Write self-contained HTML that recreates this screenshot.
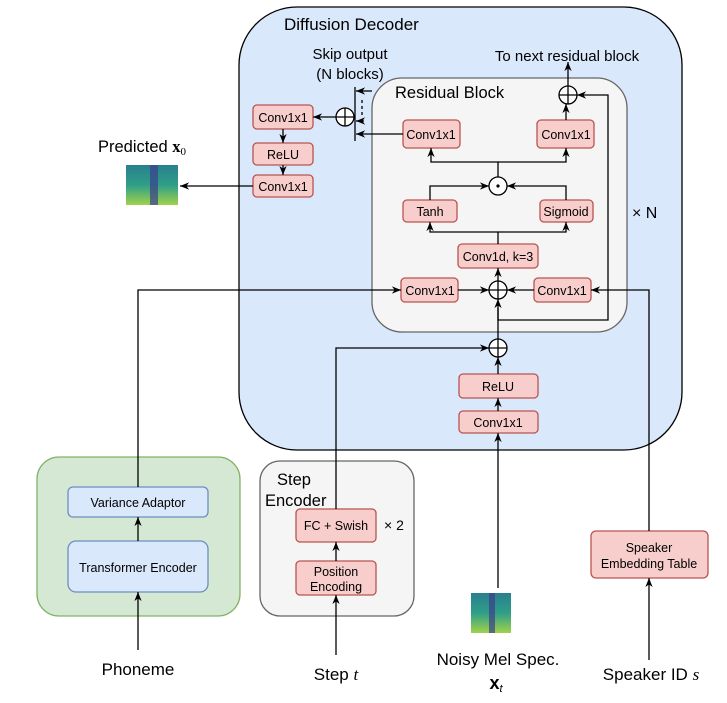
<!DOCTYPE html>
<html><head><meta charset="utf-8"><style>
body{margin:0;background:#fff}
svg text{font-family:"Liberation Sans",sans-serif;fill:#000}
.r{fill:#f8cecc;stroke:#b85450;stroke-width:1.3}
.b{fill:#dae8fc;stroke:#6c8ebf;stroke-width:1.3}
.l{fill:none;stroke:#000;stroke-width:1.3}
.c{fill:#fff;stroke:#000;stroke-width:1.3}
.s{font-size:12.5px}
</style></head><body>
<svg width="727" height="698" viewBox="0 0 727 698" xmlns="http://www.w3.org/2000/svg">
<defs>
<marker id="a" viewBox="0 0 10 10" refX="10" refY="5" markerWidth="7" markerHeight="7" orient="auto"><path d="M0,1 L10,5 L0,9 L3,5 Z" fill="#000"/></marker>
<linearGradient id="sp" x1="0" y1="0" x2="0" y2="1"><stop offset="0" stop-color="#2a7f8e"/><stop offset="0.5" stop-color="#2f9e88"/><stop offset="1" stop-color="#9fd34a"/></linearGradient>
</defs>
<rect x="239" y="7" width="443" height="443" rx="58" fill="#dae8fc" stroke="#000" stroke-width="1.3"/>
<text x="284" y="30" font-size="17">Diffusion Decoder</text>
<rect x="372" y="78" width="255" height="254" rx="30" fill="#f5f5f5" stroke="#666" stroke-width="1.3"/>
<text x="395" y="98" font-size="16.5">Residual Block</text>
<text x="350" y="59" font-size="15" text-anchor="middle">Skip output</text>
<text x="350" y="79" font-size="15" text-anchor="middle">(N blocks)</text>
<text x="567" y="61" font-size="15" text-anchor="middle">To next residual block</text>
<text x="632" y="218" font-size="16">× N</text>
<rect class="r" x="253" y="105" width="60" height="24" rx="4"/><text class="s" x="283" y="122" text-anchor="middle">Conv1x1</text>
<rect class="r" x="253" y="143" width="60" height="22" rx="4"/><text class="s" x="283" y="159" text-anchor="middle">ReLU</text>
<rect class="r" x="253" y="175" width="60" height="22" rx="4"/><text class="s" x="283" y="191" text-anchor="middle">Conv1x1</text>
<rect class="r" x="403" y="120" width="57" height="28" rx="4"/><text class="s" x="431" y="139" text-anchor="middle">Conv1x1</text>
<rect class="r" x="537" y="120" width="57" height="28" rx="4"/><text class="s" x="566" y="139" text-anchor="middle">Conv1x1</text>
<rect class="r" x="403" y="200" width="54" height="22" rx="4"/><text class="s" x="430" y="216" text-anchor="middle">Tanh</text>
<rect class="r" x="540" y="200" width="53" height="22" rx="4"/><text class="s" x="566" y="216" text-anchor="middle">Sigmoid</text>
<rect class="r" x="458" y="244" width="80" height="24" rx="4"/><text class="s" x="498" y="261" text-anchor="middle">Conv1d, k=3</text>
<rect class="r" x="401" y="278" width="57" height="24" rx="4"/><text class="s" x="430" y="295" text-anchor="middle">Conv1x1</text>
<rect class="r" x="534" y="278" width="57" height="24" rx="4"/><text class="s" x="562" y="295" text-anchor="middle">Conv1x1</text>
<rect class="r" x="459" y="374" width="79" height="24" rx="4"/><text class="s" x="498" y="391" text-anchor="middle">ReLU</text>
<rect class="r" x="459" y="411" width="79" height="22" rx="4"/><text class="s" x="498" y="427" text-anchor="middle">Conv1x1</text>
<rect x="37" y="457" width="203" height="159" rx="22" fill="#d5e8d4" stroke="#82b366" stroke-width="1.3"/>
<rect class="b" x="68" y="487" width="140" height="30" rx="5"/><text class="s" x="138" y="507" text-anchor="middle">Variance Adaptor</text>
<rect class="b" x="68" y="541" width="140" height="51" rx="8"/><text class="s" x="138" y="572" text-anchor="middle">Transformer Encoder</text>
<rect x="260" y="461" width="154" height="155" rx="20" fill="#f5f5f5" stroke="#666" stroke-width="1.3"/>
<text x="277" y="485" font-size="16.5">Step</text><text x="265" y="506" font-size="16.5">Encoder</text>
<rect class="r" x="296" y="509" width="80" height="33" rx="4"/><text class="s" x="336" y="530" text-anchor="middle">FC + Swish</text>
<text x="384" y="530" font-size="14">× 2</text>
<rect class="r" x="296" y="561" width="80" height="34" rx="4"/><text class="s" x="336" y="576" text-anchor="middle">Position</text><text class="s" x="336" y="591" text-anchor="middle">Encoding</text>
<rect class="r" x="591" y="531" width="117" height="47" rx="5"/><text class="s" x="649" y="552" text-anchor="middle">Speaker</text><text class="s" x="649" y="568" text-anchor="middle">Embedding Table</text>
<rect x="126" y="165" width="52" height="40" fill="url(#sp)"/><rect x="150" y="165" width="8" height="40" fill="#3b3f8a" opacity="0.7"/>
<rect x="471" y="593" width="40" height="40" fill="url(#sp)"/><rect x="489" y="593" width="6" height="40" fill="#3b3f8a" opacity="0.7"/>
<circle class="c" cx="345" cy="117" r="9"/><path class="l" d="M336,117h18M345,108v18"/>
<circle class="c" cx="568" cy="95" r="9"/><path class="l" d="M559,95h18M568,86v18"/>
<circle class="c" cx="498" cy="186" r="9"/><circle cx="498" cy="186" r="1.6"/>
<circle class="c" cx="498" cy="290" r="9"/><path class="l" d="M489,290h18M498,281v18"/>
<circle class="c" cx="498" cy="348" r="9"/><path class="l" d="M489,348h18M498,339v18"/>
<path class="l" d="M138,650V592" marker-end="url(#a)"/>
<path class="l" d="M138,541V517" marker-end="url(#a)"/>
<path class="l" d="M138,487V290H401" marker-end="url(#a)"/>
<path class="l" d="M336,655V595" marker-end="url(#a)"/>
<path class="l" d="M336,561V542" marker-end="url(#a)"/>
<path class="l" d="M336,509V348H489" marker-end="url(#a)"/>
<path class="l" d="M498,588V433" marker-end="url(#a)"/>
<path class="l" d="M498,411V398" marker-end="url(#a)"/>
<path class="l" d="M498,374V357" marker-end="url(#a)"/>
<path class="l" d="M498,339V299" marker-end="url(#a)"/>
<path class="l" d="M498,308V320H608V95H577" marker-end="url(#a)"/>
<path class="l" d="M649,660V578" marker-end="url(#a)"/>
<path class="l" d="M649,531V290H591" marker-end="url(#a)"/>
<path class="l" d="M534,290H507" marker-end="url(#a)"/>
<path class="l" d="M458,290H489" marker-end="url(#a)"/>
<path class="l" d="M498,281V268" marker-end="url(#a)"/>
<path class="l" d="M498,244V232H430V222" marker-end="url(#a)"/>
<path class="l" d="M498,232H566V222" marker-end="url(#a)"/>
<path class="l" d="M430,200V186H489" marker-end="url(#a)"/>
<path class="l" d="M566,200V186H507" marker-end="url(#a)"/>
<path class="l" d="M498,177V162H431V148" marker-end="url(#a)"/>
<path class="l" d="M498,162H566V148" marker-end="url(#a)"/>
<path class="l" d="M566,120V104" marker-end="url(#a)"/>
<path class="l" d="M568,86V62" marker-end="url(#a)"/>
<path class="l" d="M403,134H356" marker-end="url(#a)"/>
<path class="l" d="M372,91H356" marker-end="url(#a)"/>
<path class="l" d="M364,121H356" marker-end="url(#a)"/>
<path class="l" d="M355,87V141"/>
<path d="M362,100v3M362,106v3M362,112v3" stroke="#000" stroke-width="1.3"/>
<path class="l" d="M336,117H313" marker-end="url(#a)"/>
<path class="l" d="M283,129V143" marker-end="url(#a)"/>
<path class="l" d="M283,165V175" marker-end="url(#a)"/>
<path class="l" d="M253,186H180" marker-end="url(#a)"/>
<text x="98" y="152" font-size="16.5">Predicted <tspan font-family="Liberation Serif" font-weight="bold">x</tspan><tspan font-family="Liberation Serif" font-size="11" dy="3">0</tspan></text>
<text x="138" y="675" font-size="17" text-anchor="middle">Phoneme</text>
<text x="336" y="680" font-size="17" text-anchor="middle">Step <tspan font-family="Liberation Serif" font-style="italic">t</tspan></text>
<text x="498" y="665" font-size="17" text-anchor="middle">Noisy Mel Spec.</text>
<text x="496" y="689" font-size="18" text-anchor="middle" font-family="Liberation Serif" font-weight="bold">x<tspan font-size="11" font-style="italic" font-weight="normal" dy="3">t</tspan></text>
<text x="651" y="680" font-size="17" text-anchor="middle">Speaker ID <tspan font-family="Liberation Serif" font-style="italic">s</tspan></text>
</svg>
</body></html>
